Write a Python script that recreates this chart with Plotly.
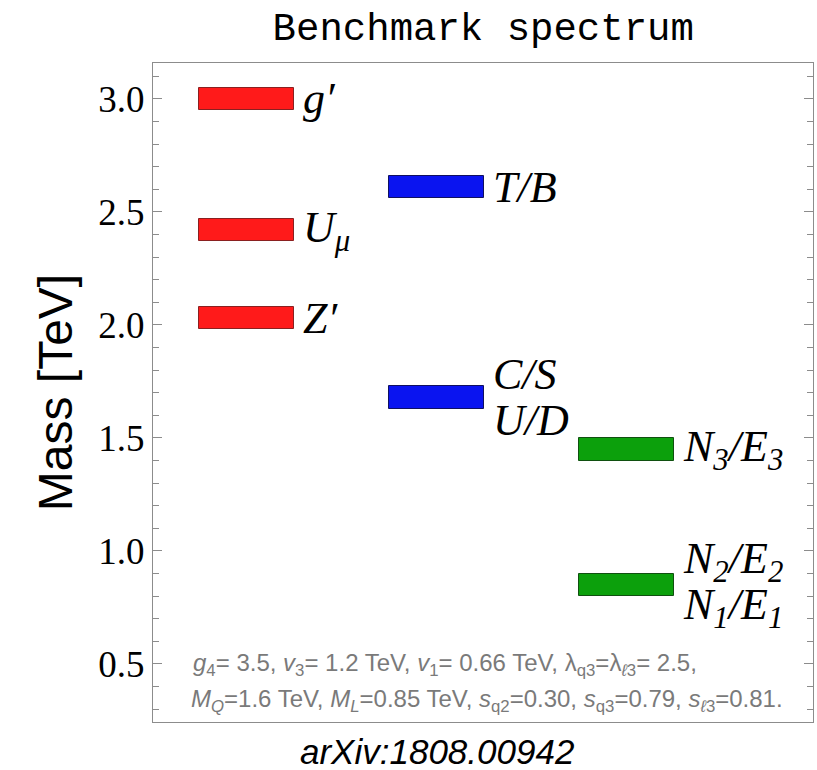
import plotly.graph_objects as go

# Particle multiplets: column, mass (TeV), label, family colour
columns = [1, 1, 1, 2, 2, 3, 3]
masses = [3.00, 2.42, 2.03, 2.61, 1.68, 1.45, 0.85]
labels = ["g′", "U<sub>μ</sub>", "Z′", "T/B", "C/S|U/D",
          "N<sub>3</sub>/E<sub>3</sub>",
          "N<sub>2</sub>/E<sub>2</sub>|N<sub>1</sub>/E<sub>1</sub>"]
fill_colors = ["#ff1a1a", "#ff1a1a", "#ff1a1a", "#0a14f0", "#0a14f0", "#0ca00c", "#0ca00c"]
edge_colors = ["#8a2020", "#8a2020", "#8a2020", "#101060", "#101060", "#105010", "#105010"]

bar_height = 0.1   # TeV, thickness of each level
bar_width = 0.5    # column units

y_ticks = [0.5, 1.0, 1.5, 2.0, 2.5, 3.0]
y_ticktext = ["0.5", "1.0", "1.5", "2.0", "2.5", "3.0"]

param_line1 = ("<i>g</i><sub>4</sub>= 3.5, <i>v</i><sub>3</sub>= 1.2 TeV, "
               "<i>v</i><sub>1</sub>= 0.66 TeV, λ<sub>q3</sub>=λ<sub><i>ℓ</i>3</sub>= 2.5,")
param_line2 = ("<i>M<sub>Q</sub></i>=1.6 TeV, <i>M<sub>L</sub></i>=0.85 TeV, "
               "<i>s</i><sub>q2</sub>=0.30, <i>s</i><sub>q3</sub>=0.79, <i>s</i><sub><i>ℓ</i>3</sub>=0.81.")

fig = go.Figure()
fig.add_trace(go.Bar(
    x=columns,
    y=[bar_height] * len(masses),
    base=[m - bar_height / 2 for m in masses],
    width=bar_width,
    marker=dict(color=fill_colors, line=dict(color=edge_colors, width=1)),
    hoverinfo="skip",
    showlegend=False,
))

serif = "Liberation Serif, Times New Roman, serif"
sans = "Liberation Sans, Arial, Helvetica, sans-serif"

for c, m, lab in zip(columns, masses, labels):
    lines = lab.split("|")
    if len(lines) == 1:
        shifts = [0]
    else:
        shifts = [23, -23]
    for line, dy in zip(lines, shifts):
        fig.add_annotation(
            x=c + bar_width / 2, y=m, xref="x", yref="y",
            text=line, showarrow=False, xanchor="left", yanchor="middle",
            xshift=7, yshift=dy,
            font=dict(family=serif, size=44, color="black", style="italic"),
        )

fig.add_annotation(x=0.058, y=0.087, xref="paper", yref="paper", text=param_line1,
                   showarrow=False, xanchor="left", yanchor="middle",
                   font=dict(family=sans, size=24, color="#7a7a7a"))
fig.add_annotation(x=0.055, y=0.033, xref="paper", yref="paper", text=param_line2,
                   showarrow=False, xanchor="left", yanchor="middle",
                   font=dict(family=sans, size=24, color="#7a7a7a"))

fig.add_annotation(x=0.22, y=-0.045, xref="paper", yref="paper", text="arXiv:1808.00942",
                   showarrow=False, xanchor="left", yanchor="middle",
                   font=dict(family=sans, size=35, color="black", style="italic"))

fig.update_layout(
    width=817, height=770,
    margin=dict(l=153, r=4, t=63, b=48),
    paper_bgcolor="white", plot_bgcolor="white",
    title=dict(text="Benchmark spectrum", x=0.5915, xanchor="center",
               y=0.966, yanchor="middle",
               font=dict(family="Courier New, Liberation Mono, monospace", size=39, color="black")),
    bargap=0,
)

fig.update_xaxes(range=[0.5105, 3.984], showticklabels=False, ticks="",
                 showgrid=False, zeroline=False, showline=True,
                 linecolor="#8c8c8c", linewidth=1, mirror=True)

fig.update_yaxes(range=[0.243, 3.159], tickvals=y_ticks, ticktext=y_ticktext,
                 ticks="inside", ticklen=9, tickcolor="#8c8c8c", tickwidth=1,
                 minor=dict(dtick=0.1, tick0=0, ticks="inside", ticklen=6,
                            tickcolor="#8c8c8c", tickwidth=1, showgrid=False),
                 showgrid=False, zeroline=False, showline=True,
                 linecolor="#8c8c8c", linewidth=1, mirror="ticks",
                 tickfont=dict(family=serif, size=37, color="black"),
                 title=dict(text="Mass [TeV]", standoff=10,
                            font=dict(family=sans, size=48, color="black")))

fig.write_html("out.html")
